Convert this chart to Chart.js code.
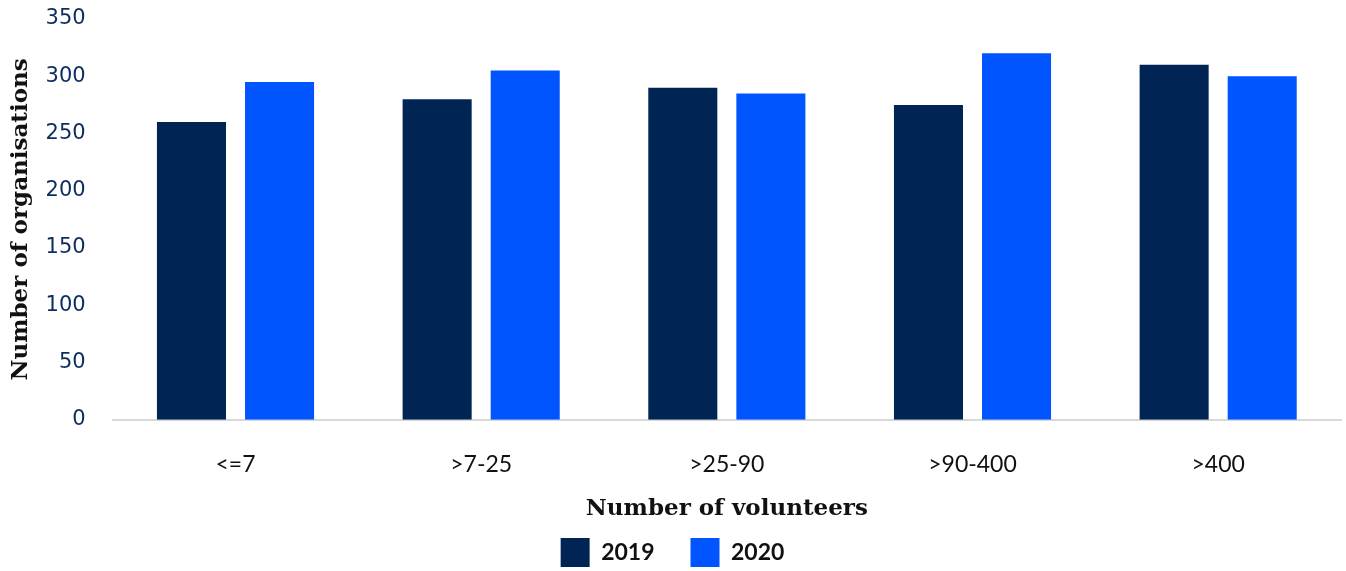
<!DOCTYPE html>
<html>
<head>
<meta charset="utf-8">
<script src="https://cdn.jsdelivr.net/npm/chart.js@4/dist/chart.umd.min.js"></script>
<style>
  html, body { margin: 0; padding: 0; background: #ffffff; }
  #wrap { width: 1346px; height: 571px; position: relative; }
</style>
</head>
<body>
<div id="wrap"><canvas id="chart"></canvas></div>
<script>
// Volunteer-size bands and organisation counts per year
const categories = ['<=7', '>7-25', '>25-90', '>90-400', '>400'];
const seriesNames = ['2019', '2020'];
const values2019 = [260, 280, 290, 275, 310];
const values2020 = [295, 305, 285, 320, 300];
const yTicks = [0, 50, 100, 150, 200, 250, 300, 350];

const navy = '#002554';
const blue = '#0055ff';

new Chart(document.getElementById('chart'), {
  type: 'bar',
  data: {
    labels: categories,
    datasets: [
      { label: seriesNames[0], data: values2019, backgroundColor: navy,
        categoryPercentage: 0.717, barPercentage: 0.784 },
      { label: seriesNames[1], data: values2020, backgroundColor: blue,
        categoryPercentage: 0.717, barPercentage: 0.784 }
    ]
  },
  options: {
    responsive: true,
    maintainAspectRatio: false,
    animation: false,
    layout: { padding: { top: 19, right: 5, left: 4, bottom: -6 } },
    plugins: {
      tooltip: { enabled: false },
      legend: {
        position: 'bottom',
        labels: {
          boxWidth: 29,
          boxHeight: 29,
          padding: 36,
          color: '#111111',
          font: { family: 'Lato', size: 23, weight: 'bold' }
        }
      }
    },
    scales: {
      x: {
        grid: { display: false, drawTicks: false },
        border: { display: true, color: '#d9d9d9', width: 2 },
        ticks: {
          color: '#111111',
          padding: 31,
          font: { family: 'Lato', size: 23 }
        },
        title: {
          display: true,
          text: 'Number of volunteers',
          color: '#111111',
          padding: { top: -14, bottom: -21 },
          font: { family: 'DejaVu Serif', size: 23, weight: 'bold' }
        }
      },
      y: {
        min: 0,
        max: 350,
        afterBuildTicks: (axis) => { axis.ticks = yTicks.map(v => ({ value: v })); },
        // keep the tick gap horizontal only, so the plot can reach the top edge
        afterFit: (axis) => { axis.paddingTop = 0; axis.paddingBottom = 0; },
        grid: { display: false, drawTicks: false },
        border: { display: false },
        ticks: {
          color: '#0d2d5e',
          padding: 27,
          font: { family: 'DejaVu Sans', size: 21 }
        },
        title: {
          display: true,
          text: 'Number of organisations',
          color: '#111111',
          padding: { top: 3, bottom: -16 },
          font: { family: 'DejaVu Serif', size: 23, weight: 'bold' }
        }
      }
    }
  }
});
</script>
</body>
</html>
